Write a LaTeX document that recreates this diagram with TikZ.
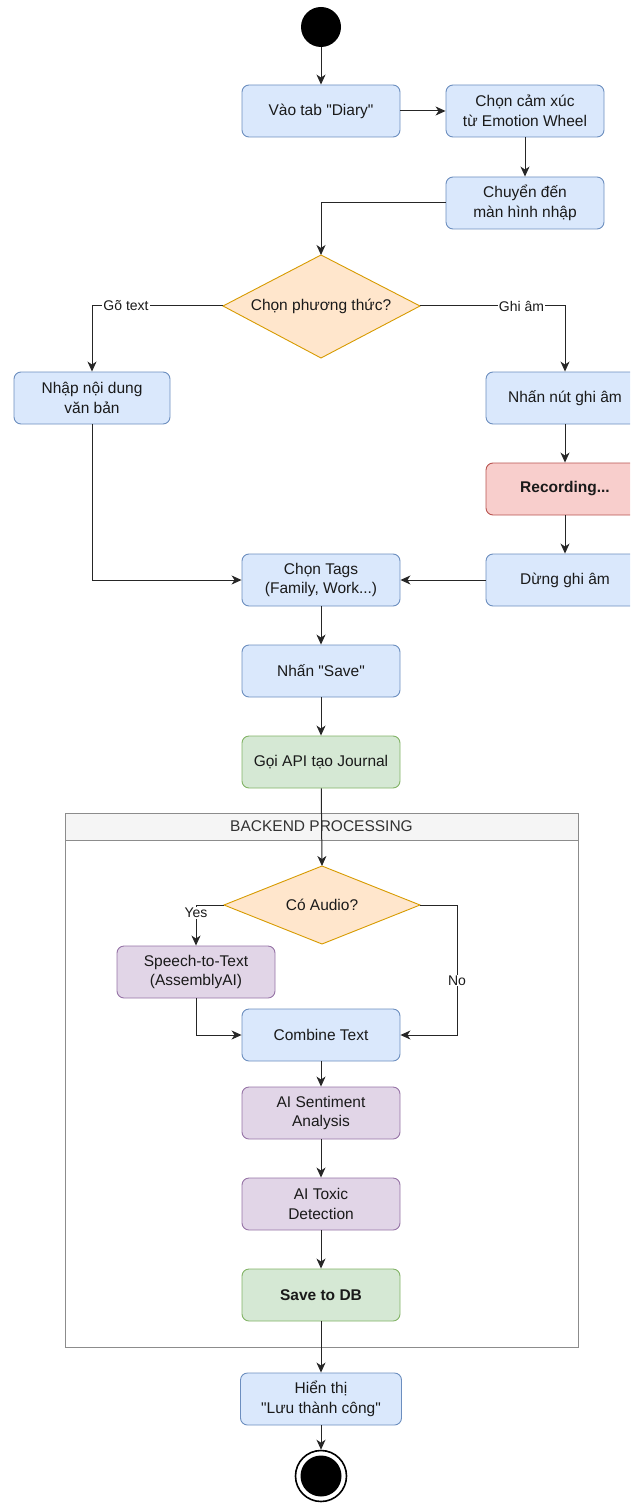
\documentclass[tikz,border=0pt]{standalone}
\usepackage{fontspec}
\setmainfont{Liberation Sans}[Ligatures=TeXOff]
\usetikzlibrary{arrows.meta}
\definecolor{bfill}{HTML}{DAE8FC}\definecolor{bdraw}{HTML}{6C8EBF}
\definecolor{ofill}{HTML}{FFE6CC}\definecolor{odraw}{HTML}{D79B00}
\definecolor{rfill}{HTML}{F8CECC}\definecolor{rdraw}{HTML}{B85450}
\definecolor{gfill}{HTML}{D5E8D4}\definecolor{gdraw}{HTML}{82B366}
\definecolor{pfill}{HTML}{E1D5E7}\definecolor{pdraw}{HTML}{9673A6}
\definecolor{hfill}{HTML}{F5F5F5}\definecolor{cdraw}{HTML}{8C8C8C}
\definecolor{txt}{HTML}{1A1A1A}
\tikzset{
  box/.style={rectangle, rounded corners=7pt, line width=0.9pt, minimum width=158pt, minimum height=52pt, inner sep=0pt, align=center, font=\fontsize{15.5}{19.5}\selectfont, text=txt},
  bluebox/.style={box, fill=bfill, draw=bdraw},
  redbox/.style={box, fill=rfill, draw=rdraw, font=\fontsize{15.5}{19.5}\selectfont\bfseries},
  greenbox/.style={box, fill=gfill, draw=gdraw},
  purplebox/.style={box, fill=pfill, draw=pdraw},
  decshape/.style={fill=ofill, draw=odraw, line width=0.9pt, line join=miter},
  dectext/.style={inner sep=0pt, font=\fontsize{15.5}{19.5}\selectfont, text=txt},
  arr/.style={draw=black!85, line width=1pt, -{Stealth[length=10pt,width=9pt,inset=3pt]}},
  lbl/.style={fill=white, inner sep=1pt, font=\fontsize{14}{16}\selectfont, text=txt},
}
\begin{document}
\begin{tikzpicture}[x=1pt,y=-1pt]
\useasboundingbox (0,0) rectangle (630,1503);
\clip (0,0) rectangle (630,1503);
% container
\node[draw=cdraw, line width=1pt, minimum width=513pt, minimum height=534pt, inner sep=0pt] (bp) at (321.5,1080) {};
\node[draw=cdraw, fill=hfill, line width=1pt, minimum width=513pt, minimum height=27pt, inner sep=0pt, font=\fontsize{15.5}{18}\selectfont, text=black!80] (bph) at (321.5,826.5) {BACKEND PROCESSING};
% decision shapes
\coordinate (d1n) at (321,255); \coordinate (d1s) at (321,358);
\coordinate (d1w) at (223,306); \coordinate (d1e) at (420,306);
\draw[decshape] (d1n) -- (d1e) -- (d1s) -- (d1w) -- cycle;
\node[dectext] (d1) at (321,306) {Chọn phương thức?};
\coordinate (d2n) at (322,866); \coordinate (d2s) at (322,944);
\coordinate (d2w) at (224,905); \coordinate (d2e) at (420,905);
\draw[decshape] (d2n) -- (d2e) -- (d2s) -- (d2w) -- cycle;
\node[dectext] (d2) at (322,905) {Có Audio?};
% nodes
\node[circle, fill=black, minimum size=40pt, inner sep=0pt] (start) at (321,27) {};
\node[bluebox] (vao) at (321,111) {Vào tab "Diary"};
\node[bluebox] (chon) at (525,111) {Chọn cảm xúc\\từ Emotion Wheel};
\node[bluebox] (chuyen) at (525,203) {Chuyển đến\\màn hình nhập};
\node[bluebox, minimum width=156pt] (nhap) at (92,398) {Nhập nội dung\\văn bản};
\node[bluebox] (nhan) at (565,398) {Nhấn nút ghi âm};
\node[redbox] (rec) at (565,489) {Recording...};
\node[bluebox] (dung) at (565,580) {Dừng ghi âm};
\node[bluebox] (tags) at (321,580) {Chọn Tags\\(Family, Work...)};
\node[bluebox] (save) at (321,671) {Nhấn "Save"};
\node[greenbox] (api) at (321,762) {Gọi API tạo Journal};
\node[purplebox] (stt) at (196,972) {Speech-to-Text\\(AssemblyAI)};
\node[bluebox] (comb) at (321,1035) {Combine Text};
\node[purplebox] (sent) at (321,1113) {AI Sentiment\\Analysis};
\node[purplebox] (tox) at (321,1204) {AI Toxic\\Detection};
\node[greenbox, font=\fontsize{15.5}{19.5}\selectfont\bfseries] (db) at (321,1295) {Save to DB};
\node[bluebox, minimum width=161pt] (hien) at (321,1399) {Hiển thị\\"Lưu thành công"};
\node[circle, draw=black, line width=1.6pt, fill=white, minimum size=51pt, inner sep=0pt] (end) at (321,1476) {};
\node[circle, fill=black, minimum size=41pt, inner sep=0pt] at (end) {};
% connectors
\draw[arr] (start) -- (vao);
\draw[arr] (vao) -- (chon);
\draw[arr] (chon) -- (chuyen);
\draw[arr] (chuyen.west) -| (d1n);
\draw[arr] (d1w) -| node[lbl, pos=0.37] {Gõ text} (nhap.north);
\draw[arr] (d1e) -| node[lbl, pos=0.35] {Ghi âm} (nhan.north);
\draw[arr] (nhan) -- (rec);
\draw[arr] (rec) -- (dung);
\draw[arr] (dung) -- (tags);
\draw[arr] (nhap.south) |- (tags.west);
\draw[arr] (tags) -- (save);
\draw[arr] (save) -- (api);
\draw[arr] (api) -- (d2n);
\draw[arr] (d2w) -| node[lbl, pos=0.6] {Yes} (stt.north);
\draw[arr] (stt.south) |- (comb.west);
\draw[arr] (d2e) -- ++(37,0) |- node[lbl, pos=0.29] {No} (comb.east);
\draw[arr] (comb) -- (sent);
\draw[arr] (sent) -- (tox);
\draw[arr] (tox) -- (db);
\draw[arr] (db) -- (hien);
\draw[arr] (hien) -- (end);
\end{tikzpicture}
\end{document}
